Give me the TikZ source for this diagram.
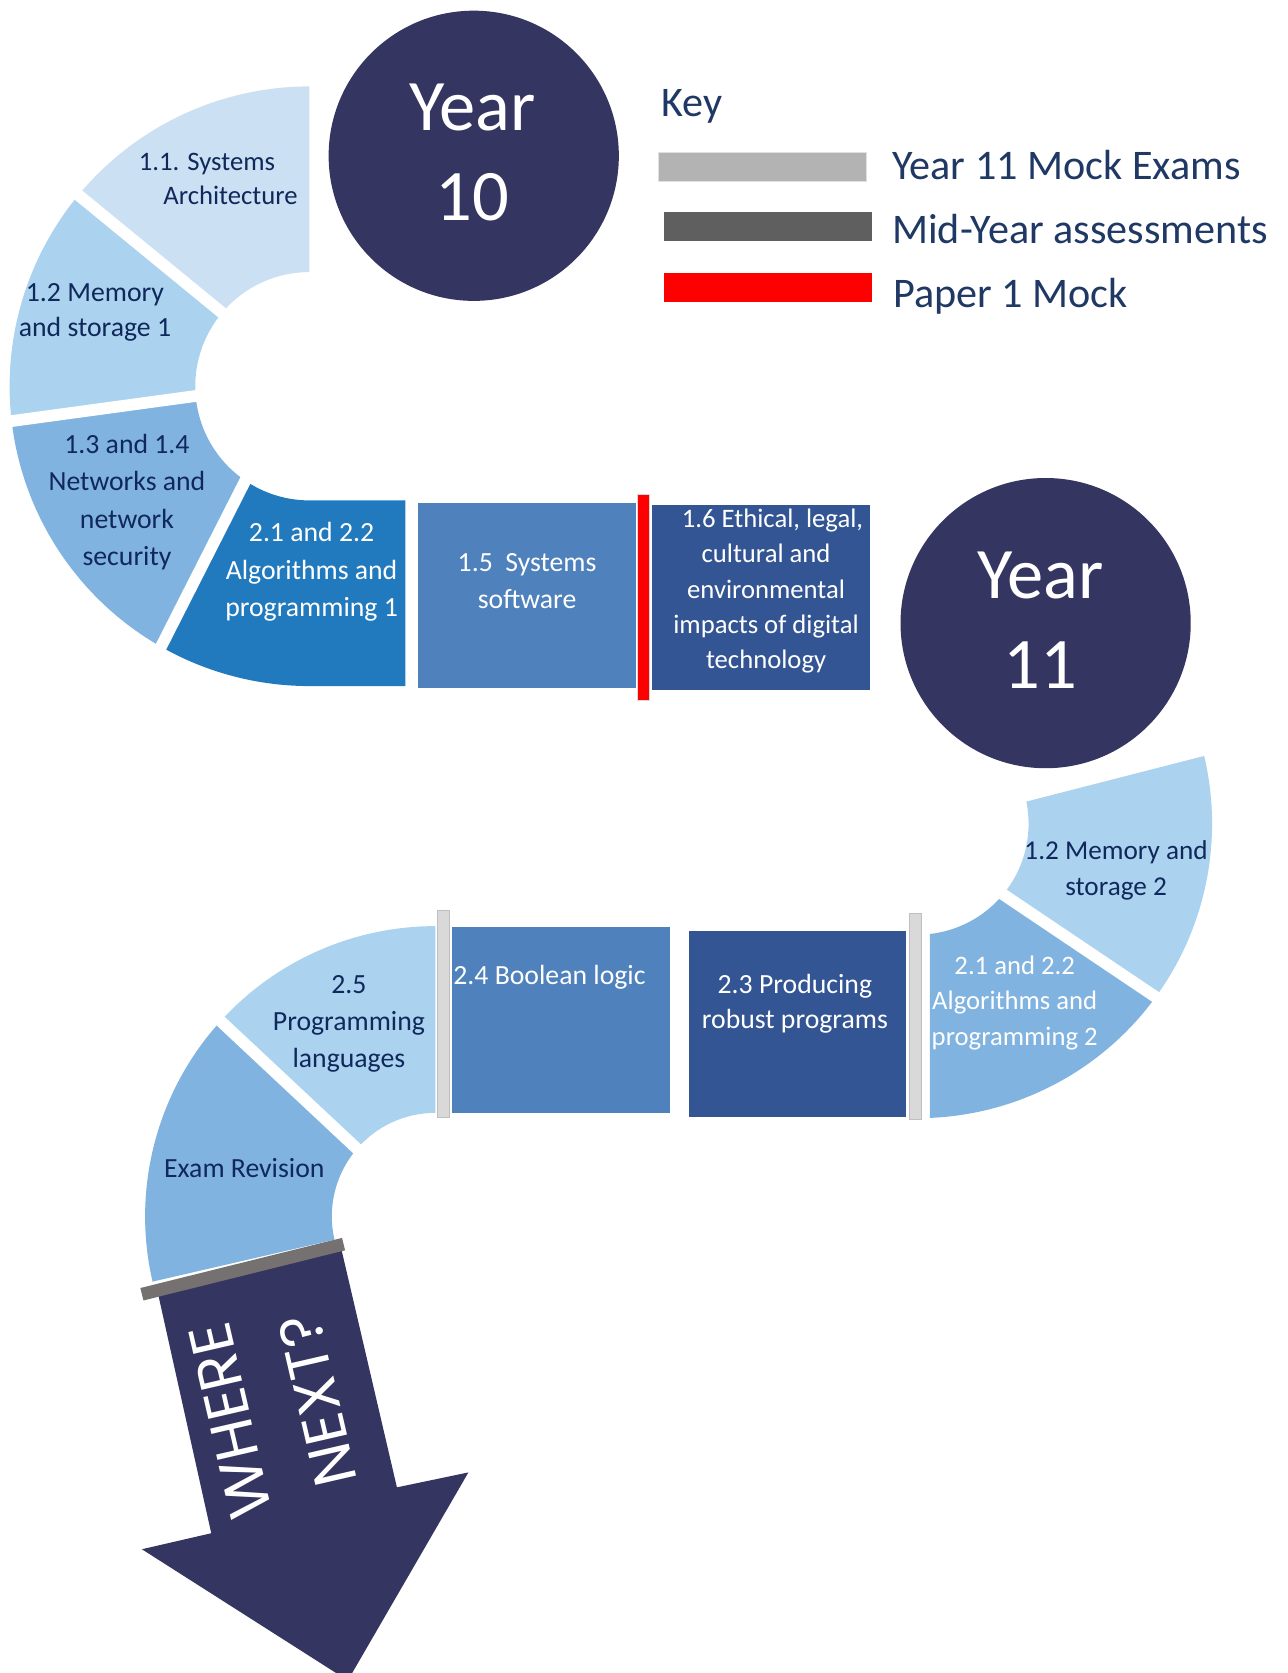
\documentclass[tikz,border=0pt]{standalone}
\usepackage{fontspec}
\setmainfont{Carlito}
\newfontfamily\arrowfont{Poppins}
\usetikzlibrary{calc}
\definecolor{navycirc}{RGB}{52,53,96}
\definecolor{keytext}{RGB}{31,56,100}
\definecolor{segtext}{RGB}{16,40,90}
\definecolor{segA}{RGB}{204,224,243}
\definecolor{segB}{RGB}{171,211,240}
\definecolor{segC}{RGB}{128,179,224}
\definecolor{segD}{RGB}{34,122,190}
\definecolor{boxA}{RGB}{79,129,189}
\definecolor{boxB}{RGB}{51,85,147}
\definecolor{mockgray}{RGB}{217,217,217}
\definecolor{keygray}{RGB}{179,179,179}
\definecolor{midgray}{RGB}{95,95,95}
\definecolor{bargray}{RGB}{118,113,113}
% #1 colour, #2 centre, #3 r in, #4 r out, #5 a1 in, #6 a1 out, #7 a2 in, #8 a2 out
\newcommand\annsec[8]{\fill[#1] ($(#2)+(#5:#3)$) arc[start angle=#5, end angle=#7, radius=#3] -- ($(#2)+(#8:#4)$) arc[start angle=#8, end angle=#6, radius=#4] -- cycle;}
% #1 centre, #2 r1, #3 r2, #4 a in, #5 a out
\newcommand\gapln[5]{\draw[gapline] ($(#1)+(#4:#2)$) -- ($(#1)+(#5:#3)$);}
\tikzset{
  lbl/.style={align=center, inner sep=0pt, font=\fontsize{26}{35}\selectfont},
  dark/.style={text=segtext},
  light/.style={text=white},
  yeartxt/.style={align=center, inner sep=0pt, text=white, font=\fontsize{68}{84}\selectfont},
  keylbl/.style={anchor=base west, inner sep=0pt, text=keytext, font=\fontsize{39.5}{47}\selectfont},
  gapline/.style={white, line width=11pt},
  yearcirc/.style={circle, fill=navycirc, minimum size=272pt, inner sep=0pt},
}
\begin{document}
\begin{tikzpicture}[x=1pt,y=1pt]
\clip (0,0) rectangle (1207,-1568);
\fill[white] (0,0) rectangle (1207,-1568);
% ---------- top arc (Year 10) ----------
\coordinate (C1) at (290,-362);
\annsec{segA}{C1}{107pt}{281pt}{90}{90}{139.9}{140.4}
\annsec{segB}{C1}{107pt}{281pt}{139.9}{140.4}{184.7}{186.7}
\annsec{segC}{C1}{107pt}{281pt}{184.7}{186.7}{235.3}{240.4}
\fill[segD] ($(C1)+(240.4:281pt)$) -- ($(C1)+(235.3:107pt)$) arc[start angle=235.3, end angle=270, radius=107pt] -- (380,-469) -- (380,-643) -- (290,-643) arc[start angle=270, end angle=240.4, radius=281pt] -- cycle;
\gapln{C1}{100pt}{288pt}{139.9}{140.4}
\gapln{C1}{100pt}{288pt}{184.7}{186.7}
\gapln{C1}{100pt}{288pt}{235.3}{240.4}
% ---------- middle boxes ----------
\fill[boxA] (392,-471) rectangle (596,-645);
\filldraw[fill=red, draw=black!15, line width=0.8pt] (597,-463) rectangle (609,-656);
\fill[boxB] (611,-473) rectangle (815,-647);
% ---------- right arc (Year 11) ----------
\coordinate (C2) at (860,-772);
\fill[segC] ($(C2)+(-83.6:104pt)$) arc[start angle=-83.6, end angle=-40, radius=104pt] -- ($(C2)+(-36:276pt)$) arc[start angle=-36, end angle=-87.6, radius=276pt] -- cycle;
\annsec{segB}{C2}{104pt}{276pt}{-40}{-36}{11.5}{13.3}
\gapln{C2}{97pt}{283pt}{-40}{-36}
% ---------- bottom row ----------
\fill[boxB] (646,-873) rectangle (849,-1047);
\filldraw[fill=mockgray, draw=black!25, line width=0.8pt] (852,-856) rectangle (864,-1049);
\fill[boxA] (424,-869) rectangle (628,-1043);
\filldraw[fill=mockgray, draw=black!25, line width=0.8pt] (410,-853) rectangle (421,-1047);
% ---------- bottom-left arc ----------
\coordinate (C3) at (408,-1140);
\annsec{segB}{C3}{97pt}{272pt}{90}{90}{139.4}{137.7}
\annsec{segC}{C3}{97pt}{272pt}{139.4}{137.7}{193}{193}
\gapln{C3}{90pt}{279pt}{139.4}{137.7}
% ---------- arrow ----------
\fill[navycirc] (148,-1212) -- (320,-1171) -- (372,-1394) -- (439,-1380) -- (326,-1575) -- (133,-1452) -- (198,-1437) -- cycle;
\draw[bargray, line width=12pt] (133,-1213) -- (322,-1166);
\node[rotate=103, align=center, inner sep=0pt, text=white, font=\arrowfont\fontsize{56}{84}\selectfont] (wn) at (257,-1322) {WHERE\\NEXT?};
% ---------- circles ----------
\node[yearcirc] (y10) at (444,-146) {};
\node[yeartxt] (y10t) at (443,-143) {Year\\10};
\node[yearcirc] (y11) at (980,-584) {};
\node[yeartxt] (y11t) at (975,-581) {Year\\11};
% ---------- key ----------
\node[keylbl] (kt) at (620,-109) {Key};
\filldraw[fill=keygray, draw=black!12, line width=0.8pt] (617,-143) rectangle (812,-170);
\fill[midgray] (622,-199) rectangle (817,-226);
\fill[red] (622,-256) rectangle (817,-283);
\node[keylbl] (k1) at (836,-168) {Year 11 Mock Exams};
\node[keylbl] (k2) at (836,-228) {Mid-Year assessments};
\node[keylbl] (k3) at (837,-288) {Paper 1 Mock};
% ---------- labels ----------
\node[lbl, dark, font=\fontsize{25}{32}\selectfont] (t11) at (205,-168) {1.1. Systems\hspace*{22pt}\\\hspace*{22pt}Architecture};
\node[lbl, dark, font=\fontsize{26}{33}\selectfont] (t12a) at (89,-292.5) {1.2 Memory\\and storage 1};
\node[lbl, dark] (t13) at (119,-470.5) {1.3 and 1.4\\Networks and\\network\\security};
\node[lbl, light] (t21a) at (292,-536) {2.1 and 2.2\\Algorithms and\\programming 1};
\node[lbl, light] (t15) at (494,-544.5) {1.5\ \ Systems\\software};
\node[lbl, light, font=\fontsize{25}{33}\selectfont] (t16) at (718,-554) {\hspace*{12pt}1.6 Ethical, legal,\\cultural and\\environmental\\impacts of digital\\technology};
\node[lbl, dark, font=\fontsize{25.5}{34}\selectfont] (t12b) at (1046,-816) {1.2 Memory and\\storage 2};
\node[lbl, light, font=\fontsize{25}{33}\selectfont] (t21b) at (951,-940) {2.1 and 2.2\\Algorithms and\\programming 2};
\node[lbl, light, font=\fontsize{26}{33}\selectfont] (t23) at (745,-940.5) {2.3 Producing\\robust programs};
\node[lbl, light] (t24) at (515,-916) {2.4 Boolean logic};
\node[lbl, dark, font=\fontsize{26}{34.5}\selectfont] (t25) at (327,-959.5) {2.5\\Programming\\languages};
\node[lbl, dark] (ter) at (229,-1095) {Exam Revision};
\end{tikzpicture}
\end{document}
